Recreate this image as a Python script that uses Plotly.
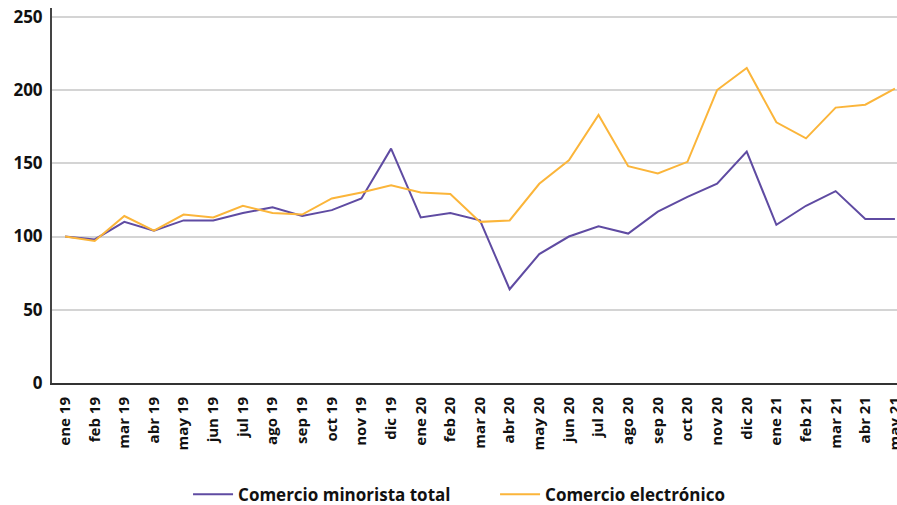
import plotly.graph_objects as go

months = ["ene 19", "feb 19", "mar 19", "abr 19", "may 19", "jun 19", "jul 19", "ago 19",
          "sep 19", "oct 19", "nov 19", "dic 19", "ene 20", "feb 20", "mar 20", "abr 20",
          "may 20", "jun 20", "jul 20", "ago 20", "sep 20", "oct 20", "nov 20", "dic 20",
          "ene 21", "feb 21", "mar 21", "abr 21", "may 21"]

minorista = [100, 98, 110, 104, 111, 111, 116, 120, 114, 118, 126, 160, 113, 116, 111, 64,
             88, 100, 107, 102, 117, 127, 136, 158, 108, 121, 131, 112, 112]

electronico = [100, 97, 114, 104, 115, 113, 121, 116, 115, 126, 130, 135, 130, 129, 110, 111,
               136, 152, 183, 148, 143, 151, 200, 215, 178, 167, 188, 190, 201]

y_ticks = [0, 50, 100, 150, 200, 250]

font_family = "Open Sans"

fig = go.Figure()
fig.add_trace(go.Scatter(x=months, y=minorista, mode="lines", name="Comercio minorista total",
                         line=dict(color="#5f4ba2", width=2)))
fig.add_trace(go.Scatter(x=months, y=electronico, mode="lines", name="Comercio electrónico",
                         line=dict(color="#fbb53a", width=2)))

fig.update_layout(
    width=897, height=505,
    margin=dict(l=52, r=0, t=8, b=122, autoexpand=False),
    paper_bgcolor="white", plot_bgcolor="white",
    font=dict(family=font_family, color="#111111", size=14, weight="bold"),
    showlegend=True,
    legend=dict(orientation="h", x=0.161, xanchor="left", y=-0.298, yanchor="middle",
                font=dict(family=font_family, size=17, color="#111111", weight="bold"),
                itemwidth=40, tracegroupgap=0, entrywidth=252, entrywidthmode="pixels"),
)
fig.update_xaxes(
    type="category", range=[-0.44, 28.07], tickangle=-90, automargin=False,
    tickfont=dict(family=font_family, size=15, color="#111111", weight="bold"),
    showgrid=False, showline=True, linecolor="#333333", linewidth=2,
    ticks="outside", ticklen=6, tickcolor="white",
)
fig.update_yaxes(
    range=[0, 256], tickvals=y_ticks, automargin=False,
    tickfont=dict(family=font_family, size=17, color="#111111", weight="bold"),
    showgrid=True, gridcolor="#d4d4d4", gridwidth=2,
    showline=True, linecolor="#444444", linewidth=2, zeroline=False,
    ticks="outside", ticklen=4, tickcolor="white",
)

fig.write_html("out.html")
